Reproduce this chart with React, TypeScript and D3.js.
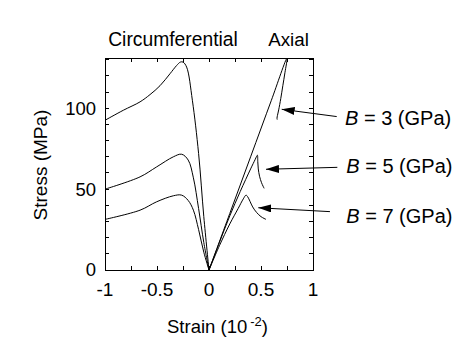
import React from "react";
import * as d3 from "d3";

type Pt = [number, number];

// Circumferential branches (strain in 1e-2, stress in MPa)
const circB3: Pt[] = [[-1, 92.6], [-0.824, 98.8], [-0.663, 104], [-0.567, 108.5], [-0.471, 114], [-0.375, 121.4], [-0.311, 126.5], [-0.275, 128.6], [-0.25, 128.6], [-0.215, 125.5], [-0.16, 105], [-0.1, 72], [-0.05, 33], [0, 0]];
const circB5: Pt[] = [[-1, 50], [-0.663, 57.6], [-0.503, 63.8], [-0.343, 70], [-0.263, 71.6], [-0.2, 68], [-0.15, 57], [-0.1, 38], [-0.05, 17], [0, 0]];
const circB7: Pt[] = [[-1, 31.3], [-0.663, 37], [-0.503, 42.2], [-0.343, 45.9], [-0.263, 46.3], [-0.2, 43], [-0.15, 37], [-0.1, 25], [-0.05, 11], [0, 0]];

// Axial branches
const axialB3: Pt[] = [[0, 0], [0.2, 35], [0.4, 70], [0.6, 105], [0.75, 131], [0.73, 122], [0.71, 114], [0.69, 106], [0.67, 99], [0.658, 95.5], [0.654, 94], [0.656, 93]];
const axialB5: Pt[] = [[0, 0], [0.1, 17], [0.2, 33.5], [0.3, 48.5], [0.4, 62.5], [0.445, 68.5], [0.465, 71], [0.469, 67], [0.474, 62.5], [0.486, 58], [0.505, 54], [0.53, 50.5]];
const axialB7: Pt[] = [[0, 0], [0.1, 15], [0.2, 28.5], [0.28, 38], [0.33, 44], [0.356, 46.3], [0.372, 45.3], [0.394, 42.5], [0.42, 39], [0.459, 35.5], [0.5, 33], [0.548, 31.3]];

const seriesList: Pt[][] = [circB3, circB5, circB7, axialB3, axialB5, axialB7];

const xTicksMajor = [-1, -0.5, 0, 0.5, 1];
const xTickLabels = ["-1", "-0.5", "0", "0.5", "1"];
const yTicksMajor = [0, 50, 100];
const yTickLabels = ["0", "50", "100"];

const bValues = ["3", "5", "7"];
// annotation anchors (data units): tail, tip, label
const arrowTail: Pt[] = [[1.228, 94.9], [1.234, 63.5], [1.163, 36.1]];
const arrowTip: Pt[] = [[0.699, 99.4], [0.548, 62.3], [0.474, 38.5]];
const labelPos: Pt[] = [[1.308, 89.7], [1.32, 59.8], [1.32, 29]];

const W = 475, H = 364;
const x = d3.scaleLinear().domain([-1, 1]).range([105, 313]);
const y = d3.scaleLinear().domain([0, 131]).range([270, 58.2]);

const FONT = "'Liberation Sans', Arial, Helvetica, sans-serif";

export default function App() {
  const line = d3.line<Pt>().x(d => x(d[0])).y(d => y(d[1])).curve(d3.curveCatmullRom.alpha(0.5));
  const xMinor = d3.range(-1, 1.0001, 0.25);
  const yMinor = d3.range(0, 131, 10);
  const [x0, x1] = x.range();
  const [y0, y1] = y.range();
  const tl = 4;
  return (
    <svg width={W} height={H} style={{ position: "absolute", left: 0, top: 0, background: "#fff" }} fontFamily={FONT}>
      <defs>
        <clipPath id="plot">
          <rect x={x0} y={y1} width={x1 - x0} height={y0 - y1} />
        </clipPath>
        <marker id="ah" viewBox="0 0 13 8" refX="13" refY="4" markerWidth="13" markerHeight="8" markerUnits="userSpaceOnUse" orient="auto">
          <path d="M0,0 L13,4 L0,8 Z" fill="#000" />
        </marker>
      </defs>
      <rect x={0} y={0} width={W} height={H} fill="#fff" />
      <g clipPath="url(#plot)">
        {seriesList.map((s, i) => (
          <path key={i} d={line(s) || ""} fill="none" stroke="#000" strokeWidth={1} />
        ))}
      </g>
      {/* frame */}
      <rect x={x0} y={y1} width={x1 - x0} height={y0 - y1} fill="none" stroke="#000" strokeWidth={1} shapeRendering="crispEdges" />
      {/* ticks */}
      <g stroke="#000" strokeWidth={1} shapeRendering="crispEdges">
        {xMinor.map((t, i) => (
          <g key={"x" + i}>
            <line x1={x(t)} x2={x(t)} y1={y0} y2={y0 - tl} />
            <line x1={x(t)} x2={x(t)} y1={y1} y2={y1 + tl} />
          </g>
        ))}
        {yMinor.map((t, i) => (
          <g key={"y" + i}>
            <line x1={x0} x2={x0 + tl} y1={y(t)} y2={y(t)} />
            <line x1={x1} x2={x1 - tl} y1={y(t)} y2={y(t)} />
          </g>
        ))}
      </g>
      <g fontSize={18} fill="#000">
        {xTicksMajor.map((t, i) => (
          <text key={"xl" + i} x={x(t)} y={296} textAnchor="middle" fontSize={19}>{xTickLabels[i]}</text>
        ))}
        {yTicksMajor.map((t, i) => (
          <text key={"yl" + i} x={96} y={y(t)} dy="0.35em" textAnchor="end" fontSize={18.5}>{yTickLabels[i]}</text>
        ))}
        <text x={167} y={333} fontSize={18.5}>
          Strain (10<tspan dx={3} dy={-7} fontSize={13}>-2</tspan><tspan dy={7}>)</tspan>
        </text>
        <text transform={`translate(47,165) rotate(-90)`} textAnchor="middle" fontSize={19}>Stress (MPa)</text>
        <text x={173} y={46} textAnchor="middle" fontSize={19.3}>Circumferential</text>
        <text x={288.5} y={46} textAnchor="middle" fontSize={18.8}>Axial</text>
        {bValues.map((b, i) => (
          <text key={"b" + i} x={x(labelPos[i][0])} y={y(labelPos[i][1])} fontSize={20}>
            <tspan fontStyle="italic">B</tspan> = {b} (GPa)
          </text>
        ))}
      </g>
      {bValues.map((b, i) => (
        <line key={"a" + i} x1={x(arrowTail[i][0])} y1={y(arrowTail[i][1])} x2={x(arrowTip[i][0])} y2={y(arrowTip[i][1])} stroke="#000" strokeWidth={1} markerEnd="url(#ah)" />
      ))}
    </svg>
  );
}
